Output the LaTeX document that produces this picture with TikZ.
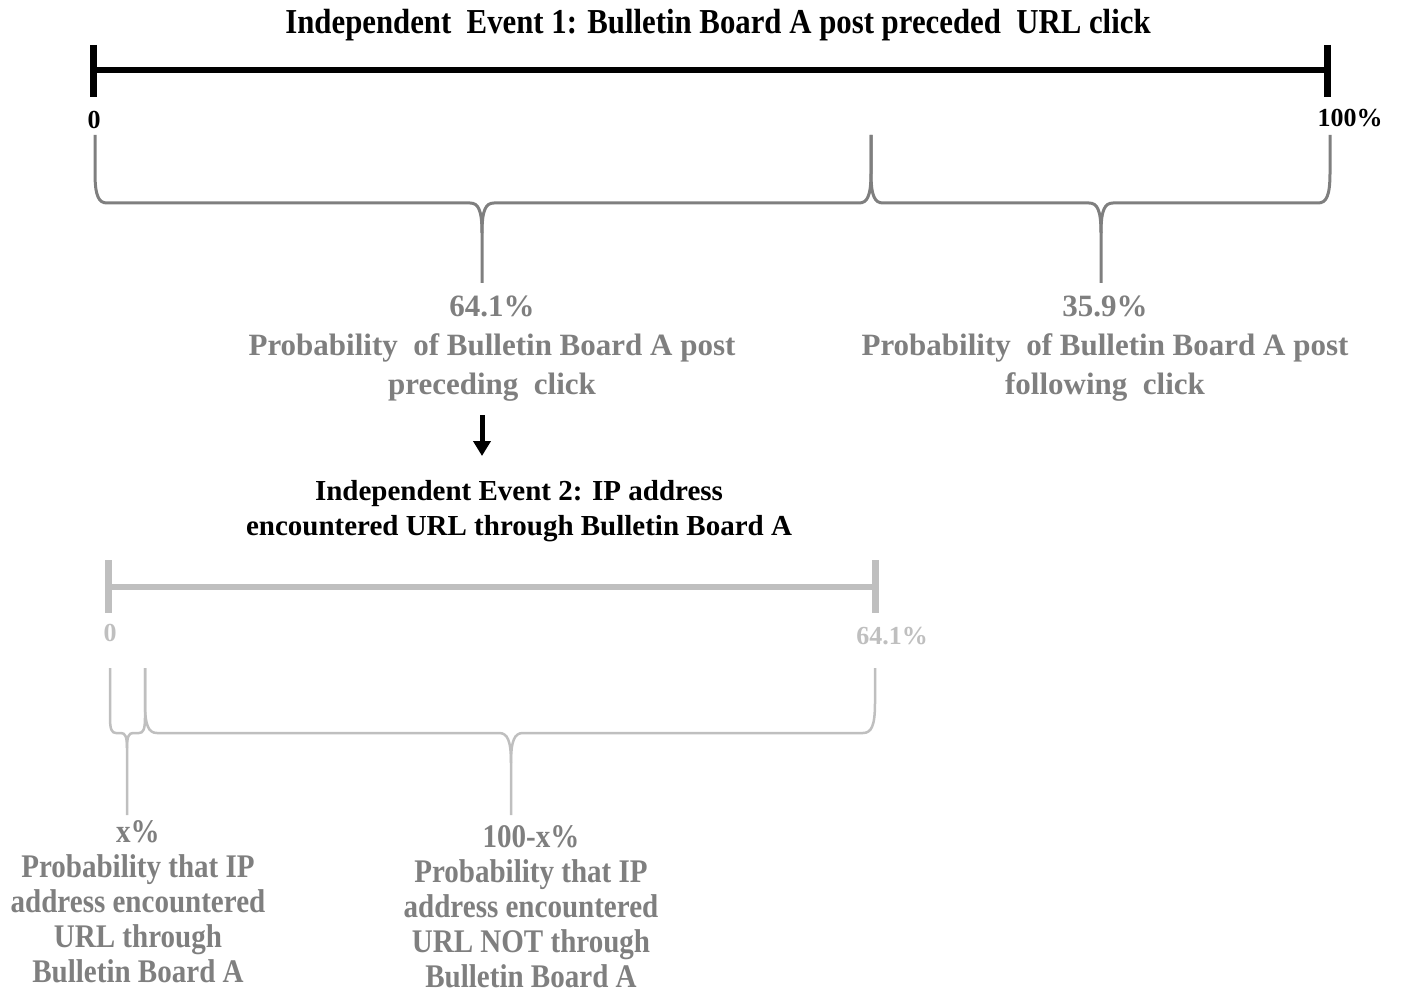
\documentclass[tikz,border=0pt]{standalone}
\usepackage{fontspec}
\setmainfont{Liberation Serif}
\newfontfamily\narrowserif[FakeStretch=0.88]{Liberation Serif}
\usepackage{tikz}
\usetikzlibrary{arrows.meta, positioning}
\definecolor{midgrey}{RGB}{127,127,127}
\definecolor{lightgrey}{RGB}{191,191,191}
\tikzstyle{arrow} = [line width=5pt, -{Triangle[length=15pt,width=17pt]}]
\tikzset{
  bar/.style={line width=6pt},
  bartick/.style={line width=7pt},
  title/.style={font=\narrowserif\fontsize{35}{35}\selectfont\bfseries, align=center, inner sep=0pt},
  ticklabel/.style={font=\fontsize{26}{30}\selectfont\bfseries, inner sep=0pt},
  pct/.style={font=\fontsize{31}{39}\selectfont\bfseries, text=midgrey, align=center, inner sep=0pt, anchor=north},
  subpct/.style={font=\narrowserif\fontsize{33}{35}\selectfont\bfseries, text=midgrey, align=center, inner sep=0pt, anchor=north},
  darkbrace/.style={draw=midgrey, line width=3pt},
  lightbrace/.style={draw=lightgrey, line width=2.5pt},
}
% brace with long legs: style, x1, xm, x2, ytop, yh, ybot, r
\newcommand{\probbrace}[8]{%
  \draw[#1] (#2,#5) -- (#2,{#6-2.5*#8}) .. controls (#2,{#6-0.6*#8}) and ({#2+0.3*#8},#6) .. ({#2+#8},#6)
    -- ({#3-#8},#6) .. controls ({#3-0.3*#8},#6) and (#3,{#6+0.6*#8}) .. (#3,{#6+2.5*#8}) -- (#3,#7);
  \draw[#1] (#3,{#6+2.5*#8}) .. controls (#3,{#6+0.6*#8}) and ({#3+0.3*#8},#6) .. ({#3+#8},#6)
    -- ({#4-#8},#6) .. controls ({#4-0.3*#8},#6) and (#4,{#6-0.6*#8}) .. (#4,{#6-2.5*#8}) -- (#4,#5);
}

\begin{document}
\begin{tikzpicture}[x=1pt, y=-1pt]
    \useasboundingbox (0,0) rectangle (1401,992);

    % First event: whole range
    \node[title] (event1) at (718,25) {Independent\ \ Event 1: Bulletin Board A post preceded\ \ URL click};
    \draw[bar] (93,70) -- (1327,70);
    \draw[bartick] (93,45) -- (93,97);
    \draw[bartick] (1327,45) -- (1327,97);
    \node[ticklabel] (zeroA) at (94,120) {0};
    \node[ticklabel] (fullA) at (1350,118) {100\%};

    % Split of the first range
    \probbrace{darkbrace}{95}{482}{871}{135}{203}{283}{12}
    \probbrace{darkbrace}{871}{1101}{1330}{135}{203}{283}{12}
    \node[pct] (before) at (492,296) {64.1\%\\Probability\ \ of Bulletin Board A post\\preceding\ \ click};
    \node[pct] (after) at (1105,296) {35.9\%\\Probability\ \ of Bulletin Board A post\\following\ \ click};

    % Into the second event
    \coordinate (arrtop) at (482,415);
    \coordinate (arrtip) at (482,456);
    \draw[arrow] (arrtop) -- (arrtip);
    \node[title, anchor=north, font=\fontsize{29}{35}\selectfont\bfseries] (event2) at (519,480) {Independent Event 2: IP address\\encountered URL through Bulletin Board A};

    % Second event: the 64.1% range
    \draw[bar, lightgrey] (108,587) -- (875,587);
    \draw[bartick, lightgrey] (108,560) -- (108,613);
    \draw[bartick, lightgrey] (875,560) -- (875,613);
    \node[ticklabel, text=lightgrey] (zeroB) at (110,633) {0};
    \node[ticklabel, text=lightgrey] (fullB) at (892,636) {64.1\%};

    % Split of the second range
    \probbrace{lightbrace}{110}{127}{145}{668}{733}{815}{6}
    \probbrace{lightbrace}{145}{511}{875}{668}{733}{815}{12}
    \node[subpct] (through) at (138,820) {x\%\\Probability that IP\\address encountered\\URL through\\Bulletin Board A};
    \node[subpct] (notthrough) at (531,825) {100-x\%\\Probability that IP\\address encountered\\URL NOT through\\Bulletin Board A};
\end{tikzpicture}
\end{document}
